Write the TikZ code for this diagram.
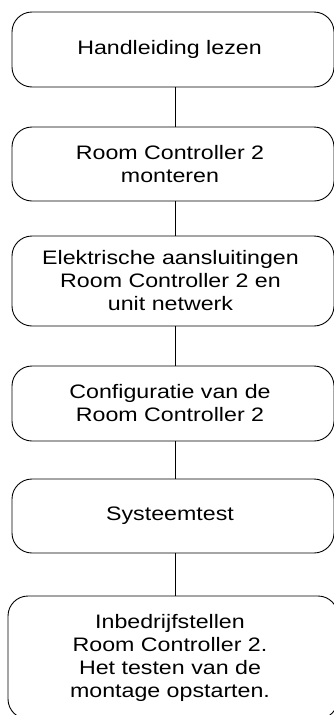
\documentclass[tikz,border=0pt]{standalone}
\usepackage{fontspec}
\usepackage{graphicx}
\setmainfont{Liberation Sans}
\newcommand{\wl}[1]{\scalebox{1.19}[1]{#1}}
\begin{document}
\begin{tikzpicture}[x=1pt,y=-1pt,
  stepbox/.style={draw=black, line width=0.9pt, rounded corners=20pt,
    inner sep=0pt, minimum width=322pt},
  steptext/.style={align=center, inner sep=0pt, font=\fontsize{19.5}{23}\selectfont},
  link/.style={draw=black, line width=0.9pt}]
\useasboundingbox (0,0) rectangle (333,715);
\node[stepbox, minimum height=75pt] (a) at (173,49.5) {};
\node[steptext] (at) at (169.5,49.5) {\wl{Handleiding lezen}};
\node[stepbox, minimum height=74pt] (b) at (173,164) {};
\node[steptext] (bt) at (170,164) {\wl{Room Controller 2}\\\wl{monteren}};
\node[stepbox, minimum height=90pt] (c) at (173,281) {};
\node[steptext] (ct) at (170.5,281) {\wl{Elektrische aansluitingen}\\\wl{Room Controller 2 en}\\\wl{unit netwerk}};
\node[stepbox, minimum height=75pt] (d) at (173,403.5) {};
\node[steptext] (dt) at (170,403.5) {\wl{Configuratie van de}\\\wl{Room Controller 2}};
\node[stepbox, minimum height=74pt] (e) at (173,516) {};
\node[steptext] (et) at (170,516) {\wl{Systeemtest}};
\node[stepbox, minimum width=330pt, minimum height=123pt] (f) at (173,657.5) {};
\node[steptext] (ft) at (170,658) {\wl{Inbedrijfstellen}\\\wl{Room Controller 2.}\\\wl{Het testen van de}\\\wl{montage opstarten.}};
\draw[link] ([xshift=2pt]a.south) -- ([xshift=2pt]b.north);
\draw[link] ([xshift=2pt]b.south) -- ([xshift=2pt]c.north);
\draw[link] ([xshift=2pt]c.south) -- ([xshift=2pt]d.north);
\draw[link] ([xshift=2pt]d.south) -- ([xshift=2pt]e.north);
\draw[link] ([xshift=2pt]e.south) -- ([xshift=2pt]f.north);
\end{tikzpicture}
\end{document}
